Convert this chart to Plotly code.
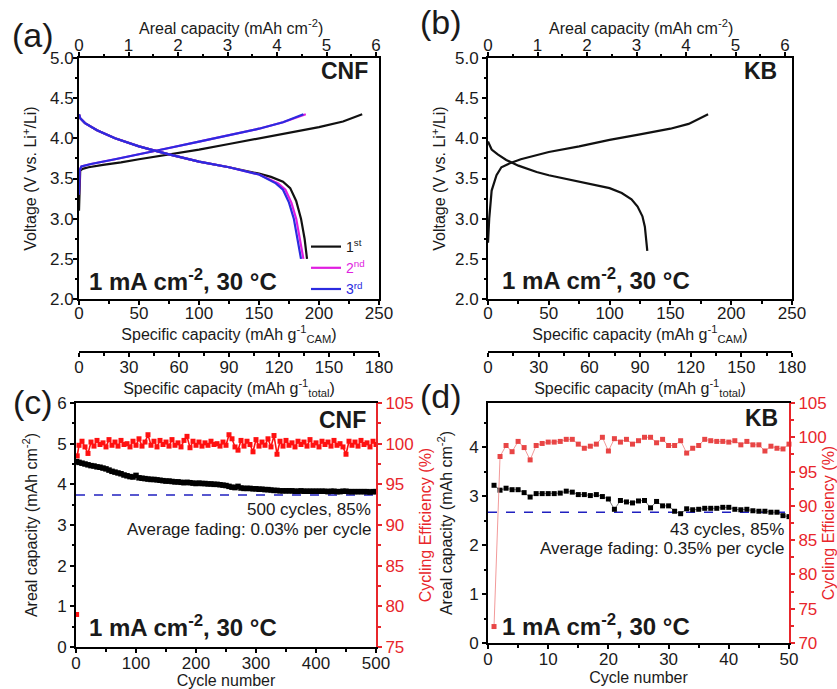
import plotly.graph_objects as go

W, H = 837, 689
def fx(p): return p / W
def fy(p): return 1 - p / H

FONT = "Arial, Liberation Sans, sans-serif"
RED = "#e8262b"
INK = "#1a1a1a"

# ---------------- (a) CNF voltage profiles ----------------
a_chg1_cap = [0, 0.5, 1, 3, 8, 20, 35, 50, 75, 100, 125, 150, 175, 200, 220, 236]
a_chg1_v   = [3.1, 3.5, 3.6, 3.62, 3.64, 3.67, 3.7, 3.74, 3.8, 3.86, 3.93, 4.0, 4.07, 4.14, 4.21, 4.3]
a_chg2_cap = [0, 0.5, 2, 10, 30, 50, 60, 75, 100, 125, 150, 170, 189]
a_chg2_v   = [3.3, 3.6, 3.65, 3.68, 3.74, 3.8, 3.83, 3.88, 3.96, 4.04, 4.12, 4.2, 4.3]
a_chg3_cap = [0, 0.5, 2, 10, 30, 50, 60, 75, 100, 125, 150, 170, 187]
a_chg3_v   = [3.3, 3.6, 3.65, 3.68, 3.74, 3.8, 3.83, 3.88, 3.96, 4.04, 4.12, 4.2, 4.3]
a_dis1_cap = [0, 1, 5, 15, 30, 50, 60, 75, 100, 125, 150, 160, 170, 176, 181, 185, 188, 190]
a_dis1_v   = [4.3, 4.25, 4.19, 4.1, 4.0, 3.9, 3.86, 3.8, 3.71, 3.64, 3.56, 3.52, 3.46, 3.38, 3.22, 3.0, 2.75, 2.5]
a_dis2_cap = [0, 1, 5, 15, 30, 50, 60, 75, 100, 125, 150, 158, 166, 172, 177, 181, 184, 187]
a_dis2_v   = [4.3, 4.25, 4.19, 4.1, 4.0, 3.9, 3.86, 3.8, 3.71, 3.64, 3.55, 3.5, 3.44, 3.36, 3.2, 3.0, 2.75, 2.5]
a_dis3_cap = [0, 1, 5, 15, 30, 50, 60, 75, 100, 125, 150, 157, 164, 170, 175, 179, 182, 185]
a_dis3_v   = [4.3, 4.25, 4.19, 4.1, 4.0, 3.9, 3.86, 3.8, 3.71, 3.64, 3.55, 3.5, 3.44, 3.36, 3.2, 3.0, 2.75, 2.5]

# ---------------- (b) KB voltage profile ----------------
b_chg_cap = [0, 1, 3, 7, 11, 18, 27, 50, 75, 100, 125, 150, 165, 181]
b_chg_v   = [2.7, 3.0, 3.35, 3.54, 3.64, 3.69, 3.74, 3.83, 3.9, 3.98, 4.05, 4.12, 4.18, 4.3]
b_dis_cap = [0, 1, 3, 8, 15, 25, 40, 50, 75, 100, 110, 118, 123, 127, 129, 131]
b_dis_v   = [3.96, 3.92, 3.86, 3.8, 3.73, 3.66, 3.58, 3.54, 3.46, 3.38, 3.32, 3.24, 3.15, 3.03, 2.9, 2.6]

# ---------------- (c) CNF cycling ----------------
c_cycles = [1] + list(range(5, 501, 5))
c_capacity = [4.56,
    4.54, 4.52, 4.50, 4.48, 4.46, 4.45, 4.43, 4.42, 4.40, 4.38,
    4.35, 4.32, 4.30, 4.28, 4.26, 4.23, 4.21, 4.19, 4.18, 4.22,
    4.16, 4.15, 4.14, 4.13, 4.12, 4.12, 4.11, 4.10, 4.09, 4.08,
    4.08, 4.07, 4.06, 4.06, 4.05, 4.04, 4.05, 4.04, 4.03, 4.02,
    4.03, 4.02, 4.02, 4.01, 4.01, 4.00, 4.00, 3.99, 3.98, 3.97,
    3.95, 3.93, 3.92, 3.95, 3.91, 3.90, 3.90, 3.90, 3.89, 3.89,
    3.88, 3.88, 3.87, 3.87, 3.86, 3.85, 3.85, 3.84, 3.84, 3.84,
    3.84, 3.84, 3.83, 3.83, 3.84, 3.83, 3.83, 3.83, 3.83, 3.83,
    3.83, 3.83, 3.83, 3.82, 3.83, 3.83, 3.82, 3.82, 3.83, 3.83,
    3.82, 3.82, 3.82, 3.82, 3.82, 3.82, 3.82, 3.81, 3.82, 3.82]
c_ce_first_cycle = [1]
c_ce_first = [79.0]
c_ce_cycles = [2] + list(range(5, 501, 5))
c_ce = [98.5,
    99.8, 100.3, 99.6, 98.8, 100.2, 99.7, 100.4, 99.9, 100.1, 99.6,
    100.5, 99.8, 100.2, 99.7, 100.4, 99.9, 100.0, 99.6, 100.3, 99.8,
    100.6, 99.7, 100.2, 101.1, 99.8, 100.3, 99.6, 100.4, 99.9, 100.2,
    99.7, 100.5, 99.8, 100.1, 99.6, 100.4, 100.9, 99.5, 100.3, 99.8,
    100.2, 99.7, 100.1, 99.8, 100.3, 99.9, 100.0, 99.7, 100.2, 99.8,
    101.1, 100.6, 99.6, 99.2, 100.4, 99.7, 100.3, 99.9, 99.0, 100.5,
    99.7, 100.2, 99.8, 100.6, 99.6, 101.0, 98.7, 100.3, 99.7, 100.4,
    99.8, 100.1, 99.6, 100.3, 99.9, 100.2, 99.7, 100.5, 99.8, 100.1,
    99.6, 100.3, 99.9, 100.2, 99.7, 100.4, 99.8, 100.0, 99.6, 98.7,
    100.3, 99.8, 100.2, 99.7, 100.4, 99.9, 100.1, 99.6, 100.3, 99.9]
c_fade_cycles = [0, 500]
c_fade_level = [3.74, 3.74]

# ---------------- (d) KB cycling ----------------
d_cycles = list(range(1, 51))
d_capacity = [3.22, 3.12, 3.16, 3.13, 3.13, 3.07, 2.98, 3.05, 3.05, 3.05,
              3.05, 3.06, 3.10, 3.08, 3.03, 3.03, 3.01, 3.03, 2.99, 2.94,
              2.73, 2.91, 2.88, 2.86, 2.90, 2.91, 2.76, 2.89, 2.80, 2.80,
              2.69, 2.64, 2.74, 2.72, 2.73, 2.75, 2.75, 2.75, 2.77, 2.77,
              2.73, 2.72, 2.73, 2.70, 2.69, 2.69, 2.67, 2.67, 2.60, 2.58]
d_ce = [72.4, 97.2, 98.8, 97.9, 99.4, 98.5, 96.7, 98.8, 99.1, 99.3,
        99.3, 99.4, 99.7, 99.7, 99.0, 98.4, 98.7, 99.0, 100.0, 98.0,
        99.8, 99.3, 99.7, 99.0, 99.5, 100.0, 100.0, 99.2, 99.7, 98.8,
        98.8, 99.5, 97.7, 98.4, 98.8, 99.7, 99.5, 99.4, 99.4, 99.3,
        99.5, 98.9, 99.4, 98.9, 98.9, 98.0, 98.7, 98.4, 98.3, 99.0]
d_fade_cycles = [0, 50]
d_fade_level = [2.67, 2.67]

# axis texts
t_voltage = "Voltage (V vs. Li<sup>+</sup>/Li)"
t_areal_top = "Areal capacity (mAh cm<sup>-2</sup>)"
t_spec_cam = "Specific capacity (mAh g<sup>-1</sup><sub>CAM</sub>)"
t_spec_tot = "Specific capacity (mAh g<sup>-1</sup><sub>total</sub>)"
t_areal = "Areal capacity (mAh cm<sup>-2</sup>)"
t_ce = "Cycling Efficiency (%)"
t_cycle = "Cycle number"
legend_names = ["1<sup>st</sup>",
                "<span style='color:#e01ee0'>2<sup>nd</sup></span>",
                "<span style='color:#2b2be0'>3<sup>rd</sup></span>"]

fig = go.Figure()

def line(x, y, xa, ya, color, name=None, show=False, width=2.2):
    fig.add_trace(go.Scatter(x=x, y=y, xaxis=xa, yaxis=ya, mode="lines",
                             line=dict(color=color, width=width), name=name,
                             showlegend=show, hoverinfo="skip"))

BLK, MAG, BLU = "#111111", "#e01ee0", "#2b2be0"
# (a)
line(a_chg1_cap, a_chg1_v, "x", "y", BLK, legend_names[0], True)
line(a_chg2_cap, a_chg2_v, "x", "y", MAG, legend_names[1], True)
line(a_chg3_cap, a_chg3_v, "x", "y", BLU, legend_names[2], True)
line(a_dis1_cap, a_dis1_v, "x", "y", BLK)
line(a_dis2_cap, a_dis2_v, "x", "y", MAG)
line(a_dis3_cap, a_dis3_v, "x", "y", BLU)
# (b)
line(b_chg_cap, b_chg_v, "x4", "y3", BLK)
line(b_dis_cap, b_dis_v, "x4", "y3", BLK)
# empty traces so that the secondary axes are drawn
for xa, ya in [("x2", "y"), ("x3", "y2"), ("x5", "y3"), ("x6", "y4")]:
    fig.add_trace(go.Scatter(x=[], y=[], xaxis=xa, yaxis=ya, showlegend=False, hoverinfo="skip"))

# (c)
fig.add_trace(go.Scatter(x=c_ce_cycles, y=c_ce, xaxis="x7", yaxis="y6", mode="lines+markers",
                         line=dict(color="#ff1010", width=1.6),
                         marker=dict(symbol="square", size=5, color="#ff1010"),
                         showlegend=False, hoverinfo="skip"))
fig.add_trace(go.Scatter(x=c_ce_first_cycle, y=c_ce_first, xaxis="x7", yaxis="y6", mode="markers",
                         marker=dict(symbol="square", size=5, color="#ff1010"),
                         showlegend=False, hoverinfo="skip", cliponaxis=False))
fig.add_trace(go.Scatter(x=c_fade_cycles, y=c_fade_level, xaxis="x7", yaxis="y5", mode="lines",
                         line=dict(color="#2020c0", width=1.5, dash="dash"),
                         showlegend=False, hoverinfo="skip"))
fig.add_trace(go.Scatter(x=c_cycles, y=c_capacity, xaxis="x7", yaxis="y5", mode="lines+markers",
                         line=dict(color="black", width=2.5),
                         marker=dict(symbol="square", size=5.5, color="black"),
                         showlegend=False, hoverinfo="skip"))
# (d)
fig.add_trace(go.Scatter(x=d_cycles, y=d_ce, xaxis="x8", yaxis="y8", mode="lines+markers",
                         line=dict(color="#f29a9a", width=1),
                         marker=dict(symbol="square", size=5, color="#e84545"),
                         showlegend=False, hoverinfo="skip", cliponaxis=False))
fig.add_trace(go.Scatter(x=d_fade_cycles, y=d_fade_level, xaxis="x8", yaxis="y7", mode="lines",
                         line=dict(color="#2020c0", width=1.5, dash="dash"),
                         showlegend=False, hoverinfo="skip"))
fig.add_trace(go.Scatter(x=d_cycles, y=d_capacity, xaxis="x8", yaxis="y7", mode="lines+markers",
                         line=dict(color="#555555", width=0.8),
                         marker=dict(symbol="square", size=5, color="black"),
                         showlegend=False, hoverinfo="skip"))

TICK_SIZE = 17
TITLE_SIZE = 16

def ax(color="black", tcolor=INK, minor_dtick=None, **kw):
    d = dict(showline=True, linecolor=color, linewidth=2, ticks="outside", ticklen=4,
             tickwidth=1.5, tickcolor=color, showgrid=False, zeroline=False,
             tickfont=dict(size=TICK_SIZE, color=tcolor, family=FONT), automargin=False,
             fixedrange=True)
    if minor_dtick is not None:
        d["minor"] = dict(ticks="outside", ticklen=2.5, tickwidth=1.5, tickcolor=color,
                          dtick=minor_dtick, showgrid=False)
    d.update(kw)
    return d

def ttl(text, standoff, color=INK, size=TITLE_SIZE):
    return dict(text=text, standoff=standoff, font=dict(size=size, color=color, family=FONT))

AX_L, AX_R = fx(79), fx(379)
BX_L, BX_R = fx(488), fx(792)
TOP_DOM = [fy(299), fy(58)]

layout = dict(
    width=W, height=H, margin=dict(l=0, r=0, t=0, b=0), autosize=False,
    template="none", paper_bgcolor="white", plot_bgcolor="rgba(0,0,0,0)",
    font=dict(family=FONT, color=INK),
    showlegend=True,
    legend=dict(x=fx(306), y=fy(231), xanchor="left", yanchor="top",
                bgcolor="rgba(0,0,0,0)", borderwidth=0, font=dict(size=14, family=FONT),
                itemwidth=30, tracegroupgap=0),
    # (a)
    xaxis=ax(domain=[AX_L, AX_R], anchor="y", range=[0, 250], dtick=50, minor_dtick=25,
             ticklabelstandoff=-6, title=ttl(t_spec_cam, 1)),
    xaxis2=ax(overlaying="x", side="top", anchor="y", range=[0, 6.06], dtick=1, minor_dtick=0.5,
              ticklabelstandoff=-6),
    xaxis3=ax(domain=[AX_L, AX_R], anchor="y2", range=[0, 180], dtick=30, minor_dtick=15,
              ticklabelstandoff=-4, title=ttl(t_spec_tot, 1)),
    yaxis=ax(domain=TOP_DOM, anchor="x", range=[2, 5], dtick=0.5, tickformat=".1f",
             minor_dtick=0.25, mirror=True, ticklabelstandoff=-4, title=ttl(t_voltage, 9)),
    yaxis2=dict(domain=[fy(351), fy(350)], anchor="x3", visible=False, range=[0, 1], fixedrange=True),
    # (b)
    xaxis4=ax(domain=[BX_L, BX_R], anchor="y3", range=[0, 250], dtick=50, minor_dtick=25,
              ticklabelstandoff=-6, title=ttl(t_spec_cam, 1)),
    xaxis5=ax(overlaying="x4", side="top", anchor="y3", range=[0, 6.14], dtick=1, minor_dtick=0.5,
              ticklabelstandoff=-6),
    xaxis6=ax(domain=[BX_L, BX_R], anchor="y4", range=[0, 180], dtick=30, minor_dtick=15,
              ticklabelstandoff=-4, title=ttl(t_spec_tot, 1)),
    yaxis3=ax(domain=TOP_DOM, anchor="x4", range=[2, 5], dtick=0.5, tickformat=".1f",
              minor_dtick=0.25, mirror=True, title=ttl(t_voltage, 5)),
    yaxis4=dict(domain=[fy(351), fy(350)], anchor="x6", visible=False, range=[0, 1], fixedrange=True),
    # (c)
    xaxis7=ax(domain=[fx(76), fx(376)], anchor="y5", range=[0, 500], dtick=100, minor_dtick=50,
              mirror=True, ticklabelstandoff=-4, title=ttl(t_cycle, 5)),
    yaxis5=ax(domain=[fy(647), fy(403)], anchor="x7", range=[0, 6], dtick=1, minor_dtick=0.5,
              title=ttl(t_areal, 16)),
    yaxis6=ax(color=RED, tcolor=RED, overlaying="y5", side="right", anchor="x7", range=[75, 105],
              dtick=5, minor_dtick=2.5, title=ttl(t_ce, 7, RED)),
    # (d)
    xaxis8=ax(domain=[fx(488), fx(789)], anchor="y7", range=[0, 50], dtick=10, minor_dtick=5,
              mirror=True, ticklabelstandoff=-4, title=ttl(t_cycle, 3)),
    yaxis7=ax(domain=[fy(643), fy(403)], anchor="x8", range=[0, 4.9], dtick=1, minor_dtick=0.5,
              title=ttl(t_areal, 13)),
    yaxis8=ax(color=RED, tcolor=RED, overlaying="y7", side="right", anchor="x8", range=[70, 105],
              dtick=5, minor_dtick=2.5, title=ttl(t_ce, 10, RED)),
)
fig.update_layout(**layout)

def note(text, x, y, size, xanchor="left", bold=False, color=INK):
    fig.add_annotation(text=("<b>%s</b>" % text) if bold else text, xref="paper", yref="paper",
                       x=fx(x), y=fy(y), xanchor=xanchor, yanchor="middle", showarrow=False,
                       font=dict(size=size, family=FONT, color=color))

cond = "1 mA cm<sup>-2</sup>, 30 °C"
# top-axis titles (placed as text so they sit at the reference height)
note(t_areal_top, 231, 27, TITLE_SIZE, "center")
note(t_areal_top, 641, 27, TITLE_SIZE, "center")
note("(a)", 33, 35, 34, "center")
note("(b)", 441, 22, 34, "center")
note("(c)", 33, 402, 34, "center")
note("(d)", 441, 396, 34, "center")
note("CNF", 370, 71, 23, "right", True)
note("KB", 779, 71, 23, "right", True)
note(cond, 87, 280, 24, "left", True)
note(cond, 500, 279, 24, "left", True)
note("CNF", 368, 420, 23, "right", True)
note("KB", 780, 418, 23, "right", True)
note(cond, 87, 626, 24, "left", True)
note(cond, 500, 625, 24, "left", True)
note("500 cycles, 85%", 373, 510, 17, "right")
note("Average fading: 0.03% per cycle", 373, 529, 17, "right")
note("43 cycles, 85%", 786, 529, 17, "right")
note("Average fading: 0.35% per cycle", 786, 548, 17, "right")

fig.write_html("out.html", config={"displayModeBar": False},
               post_script="document.body.style.margin='0px';document.body.style.overflow='hidden';")
